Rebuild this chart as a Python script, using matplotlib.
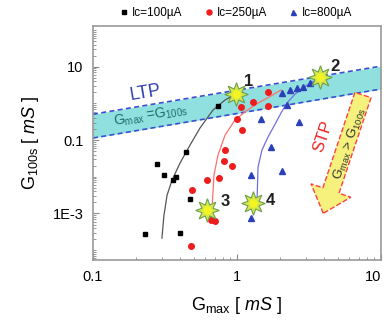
import matplotlib
matplotlib.use("Agg")
import matplotlib.pyplot as plt
from matplotlib.patches import FancyArrow
from matplotlib.ticker import LogLocator, NullFormatter

plt.rcParams['font.family'] = ['Liberation Sans', 'DejaVu Sans']
plt.rcParams['mathtext.fontset'] = 'custom'
plt.rcParams['mathtext.rm'] = 'Liberation Sans'
plt.rcParams['mathtext.it'] = 'Liberation Sans:italic'

# data (Gmax, G100s in mS)
black_x = [0.74, 0.44, 0.28, 0.31, 0.38, 0.36, 0.47, 0.23, 0.40]
black_y = [0.85, 0.046, 0.022, 0.011, 0.010, 0.0081, 0.0025, 0.00027, 0.0003]

red_x = [1.06, 1.30, 1.65, 1.65, 1.00, 1.09, 0.82, 0.81, 0.93, 0.62, 0.75, 0.49, 0.70, 0.66, 0.48]
red_y = [0.78, 1.11, 2.08, 0.85, 0.37, 0.19, 0.054, 0.027, 0.020, 0.0081, 0.0094, 0.0043,
         0.00063, 0.00066, 0.00013]

blue_x = [2.21, 1.47, 2.71, 1.72, 1.26, 2.04, 1.25, 2.04, 2.33, 2.60, 2.89, 3.21]
blue_y = [0.90, 0.37, 0.32, 0.066, 0.011, 0.014, 0.00076, 1.95, 2.32, 2.63, 2.85, 3.52]

# guide curves through each set
black_cx = [0.301, 0.311, 0.327, 0.354, 0.402, 0.472, 0.553, 0.681, 0.826, 0.98]
black_cy = [0.000213, 0.0009, 0.00317, 0.0081, 0.0237, 0.0733, 0.213, 0.659, 1.24, 1.80]
red_cx = [0.67, 0.676, 0.692, 0.738, 0.826, 0.968, 1.155, 1.40, 1.69, 2.02]
red_cy = [0.00058, 0.00232, 0.0111, 0.0391, 0.137, 0.352, 0.62, 1.02, 1.54, 2.32]
blue_cx = [1.38, 1.40, 1.49, 1.64, 1.84, 2.02, 2.22, 2.53, 3.01, 3.77]
blue_cy = [0.0028, 0.0184, 0.0535, 0.121, 0.274, 0.546, 1.02, 1.80, 2.98, 5.14]

# numbered states
star_x = [0.98, 3.77, 0.62, 1.30]
star_y = [1.80, 5.14, 0.00124, 0.00195]
star_labels = ['1', '2', '3', '4']

# LTP band (Gmax = G100s)
band_x = [0.1, 10]
band_lo = [0.114, 2.47]
band_hi = [0.51, 10.4]

fig = plt.figure(figsize=(3.87, 3.26), dpi=100)
ax = fig.add_axes([0.2403, 0.2025, 0.7442, 0.7177])
ax.set_xscale('log')
ax.set_yscale('log')
ax.set_xlim(0.1, 10)
ax.set_ylim(5.4e-5, 129)

ax.fill_between(band_x, band_lo, band_hi, color='#90e0e0', lw=0, zorder=1)
ax.plot(band_x, band_lo, color='#3a4fd0', lw=1.2, ls=(0, (3, 2)), zorder=2)
ax.plot(band_x, band_hi, color='#3a4fd0', lw=1.2, ls=(0, (3, 2)), zorder=2)

ax.plot(black_cx, black_cy, color='#555555', lw=0.9, zorder=3)
ax.plot(red_cx, red_cy, color='#ff6f6f', lw=0.9, zorder=3)
ax.plot(blue_cx, blue_cy, color='#6f6fe0', lw=0.9, zorder=3)

h1, = ax.plot(black_x, black_y, 's', color='black', ms=3.2, ls='none', zorder=4,
              label='Ic=100\u00b5A')
h2, = ax.plot(red_x, red_y, 'o', color='#ee1c1c', ms=4, ls='none', zorder=4,
              label='Ic=250\u00b5A')
h3, = ax.plot(blue_x, blue_y, '^', color='#2a3fb8', ms=4, ls='none', zorder=4,
              label='Ic=800\u00b5A')

ax.plot(star_x, star_y, marker=(8, 1, 0), ms=17, ls='none', mfc='#d8e848',
        mec='#6aa050', mew=0.8, zorder=5)
ax.plot(star_x, star_y, 'o', ms=6, ls='none', mfc='#f4f420', mec='none', zorder=6)
offsets = [(9, 9), (11, 8), (13, 6), (12, 2)]
for sx, sy, lab, off in zip(star_x, star_y, star_labels, offsets):
    ax.annotate(lab, (sx, sy), xytext=off, textcoords='offset points',
                fontsize=12, fontweight='bold', color='#222222',
                ha='center', va='center', zorder=7)

ax.text(0.182, 0.716, 'LTP', transform=ax.transAxes, rotation=9.5, fontsize=13,
        color='#3040b0', ha='center', va='center')
ax.text(0.2, 0.618, r'G$_{\rm max}$ =G$_{\rm 100s}$', transform=ax.transAxes,
        rotation=9.5, fontsize=10, color='#1f6e6e', ha='center', va='center')

# STP arrow
arr = FancyArrow(3.63, 2.31, -0.397, -1.183, width=0.17, head_width=0.42,
                 head_length=0.24, length_includes_head=True,
                 transform=fig.dpi_scale_trans, facecolor='#f6f07c',
                 edgecolor='#ff4040', lw=1, ls='--', zorder=8)
fig.add_artist(arr)
fig.text(0.835, 0.581, 'STP', rotation=71.5, fontsize=12, color='#ee2222',
         ha='center', va='center', zorder=9)
fig.text(0.904, 0.560, r'G$_{\rm max}$ > G$_{\rm 100s}$', rotation=71.5,
         fontsize=9.5, color='#333333', ha='center', va='center', zorder=9)

# ticks
ax.set_xticks([0.1, 1, 10], labels=['0.1', '1', '10'])
ax.set_yticks([1e-3, 1e-1, 10], labels=['1E-3', '0.1', '10'])
ax.xaxis.set_minor_locator(LogLocator(base=10, subs=range(1, 10), numticks=20))
ax.yaxis.set_minor_locator(LogLocator(base=10, subs=range(1, 10), numticks=20))
ax.xaxis.set_minor_formatter(NullFormatter())
ax.yaxis.set_minor_formatter(NullFormatter())
ax.tick_params(which='both', direction='in', color='#888888', labelsize=10.5,
               pad=7)
ax.tick_params(which='major', length=4)
ax.tick_params(which='minor', length=2)
ax.get_xticklabels()[-1].set_horizontalalignment('right')
for s in ax.spines.values():
    s.set_color('#999999')
    s.set_linewidth(1.2)

ax.set_xlabel(r'G$_{\rm max}$ $\it{[\ mS\ ]}$', fontsize=13, labelpad=8)
ax.set_ylabel(r'G$_{\rm 100s}$ $\it{[\ mS\ ]}$', fontsize=13, labelpad=8)

ax.legend(handles=[h1, h2, h3], loc='lower center', bbox_to_anchor=(0.495, 1.0),
          ncol=3, frameon=False, fontsize=8.5, handlelength=0.8,
          handletextpad=0.3, columnspacing=1.8, markerscale=0.9,
          borderaxespad=0.2)

fig.savefig('out.png', dpi=100)
